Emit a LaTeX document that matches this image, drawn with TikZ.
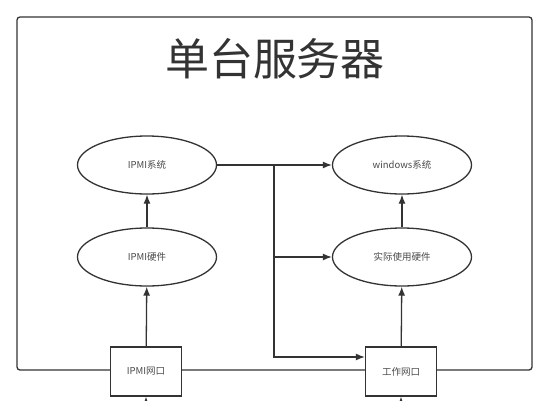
\documentclass[tikz,border=0pt]{standalone}
\usepackage{fontspec}
\setmainfont{Noto Sans CJK SC}
\usepackage{tikz}
\usetikzlibrary{shapes.geometric, arrows.meta, positioning}

\definecolor{linegray}{HTML}{333333}
\definecolor{textgray}{HTML}{4A4A4A}

\begin{document}
\begin{tikzpicture}[
    x=1pt, y=-1pt,
    auto,
    oval/.style={ellipse, draw=linegray, line width=1.3pt, minimum width=139pt, minimum height=58pt, inner sep=0pt, font=\fontsize{9.5}{11}\selectfont, text=textgray},
    port/.style={rectangle, draw=linegray, fill=white, line width=1.3pt, minimum width=71pt, minimum height=49pt, inner sep=0pt, font=\fontsize{9.5}{11}\selectfont, text=textgray},
    line/.style={draw=linegray, -{Latex[length=9pt, width=7pt]}, line width=1.3pt}
]
    \clip (0,0) rectangle (550,400);
    \fill [white] (0,0) rectangle (550,400);

    % outer frame
    \draw [linegray, line width=1.3pt, rounded corners=3pt] (17,17) rectangle (532,370);
    \node [text=linegray, font=\fontsize{44}{48}\selectfont] (title) at (275,59) {单台服务器};

    \node [oval] (ipmisys) at (147,165) {IPMI系统};
    \node [oval] (ipmihw) at (147,257) {IPMI硬件};
    \node [oval] (winsys) at (402,165) {windows系统};
    \node [oval] (realhw) at (402,257) {实际使用硬件};

    \node [port] (ipmiport) at (146,371.5) {IPMI网口};
    \node [port] (workport) at (401,371.5) {工作网口};

    \coordinate (split) at (274,165);
    \coordinate (workin) at ([yshift=14.5pt]workport.west);
    \coordinate (ipmiin) at (146,440);
    \coordinate (workbelow) at (401,440);

    \path [line] (ipmihw) -- (ipmisys);
    \path [line] (ipmiport) -- (ipmihw);
    \path [line] (realhw) -- (winsys);
    \path [line] (workport) -- (realhw);
    \path [line] (ipmisys) -- (winsys);
    \path [line] (split) |- (workin);
    \path [line] (split |- realhw) -- (realhw);
    \path [line] (ipmiin) -- (ipmiport);
    \path [line] (workbelow) -- (workport);
\end{tikzpicture}
\end{document}
